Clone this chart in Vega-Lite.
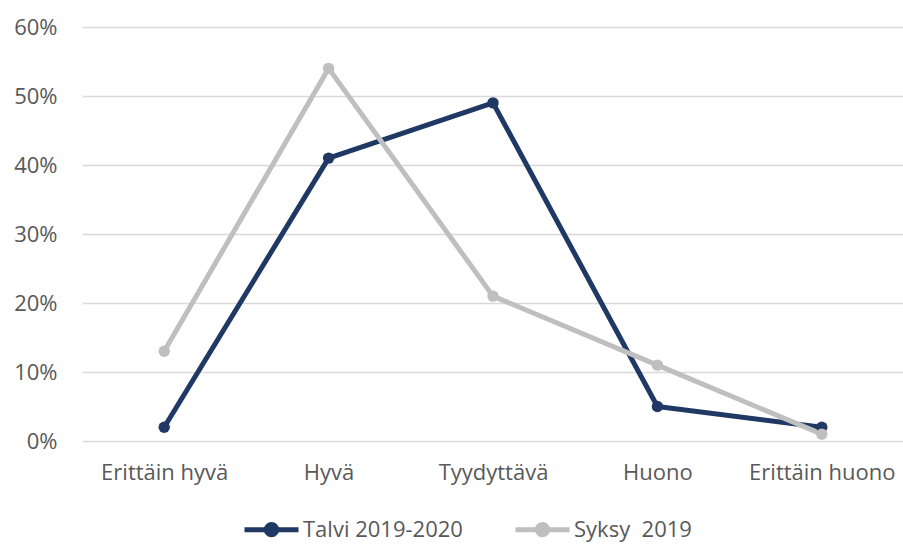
{
  "$schema": "https://vega.github.io/schema/vega-lite/v6.json",
  "autosize": "none",
  "width": 822,
  "height": 414,
  "padding": {"left": 82, "top": 27, "right": 0, "bottom": 104},
  "background": "white",
  "config": {
    "font": "Open Sans",
    "view": {"stroke": null}
  },
  "data": {
    "values": [
      {"cat": "Erittäin hyvä", "series": "Talvi 2019-2020", "value": 0.02},
      {"cat": "Hyvä", "series": "Talvi 2019-2020", "value": 0.41},
      {"cat": "Tyydyttävä", "series": "Talvi 2019-2020", "value": 0.49},
      {"cat": "Huono", "series": "Talvi 2019-2020", "value": 0.05},
      {"cat": "Erittäin huono", "series": "Talvi 2019-2020", "value": 0.02},
      {"cat": "Erittäin hyvä", "series": "Syksy\u00a0 2019", "value": 0.13},
      {"cat": "Hyvä", "series": "Syksy\u00a0 2019", "value": 0.54},
      {"cat": "Tyydyttävä", "series": "Syksy\u00a0 2019", "value": 0.21},
      {"cat": "Huono", "series": "Syksy\u00a0 2019", "value": 0.11},
      {"cat": "Erittäin huono", "series": "Syksy\u00a0 2019", "value": 0.01}
    ]
  },
  "encoding": {
    "x": {
      "field": "cat",
      "type": "nominal",
      "sort": null,
      "scale": {"type": "point", "padding": 0.5},
      "axis": {
        "title": null,
        "labelAngle": 0,
        "labelFontSize": 22,
        "labelColor": "#595959",
        "labelPadding": 21,
        "ticks": false,
        "domain": false,
        "grid": false
      }
    },
    "y": {
      "field": "value",
      "type": "quantitative",
      "scale": {"domain": [0, 0.6], "nice": false},
      "axis": {
        "title": null,
        "values": [0, 0.1, 0.2, 0.3, 0.4, 0.5, 0.6],
        "format": ".0%",
        "labelFontSize": 22,
        "labelColor": "#595959",
        "labelPadding": 25,
        "ticks": false,
        "domain": false,
        "gridColor": "#d9d9d9",
        "gridWidth": 1.3
      }
    },
    "color": {
      "field": "series",
      "type": "nominal",
      "sort": null,
      "scale": {"domain": ["Talvi 2019-2020", "Syksy\u00a0 2019"], "range": ["#203864", "#BFBFBF"]},
      "legend": {
        "title": null,
        "orient": "none",
        "legendX": 160,
        "legendY": 473,
        "direction": "horizontal",
        "labelFontSize": 22,
        "labelColor": "#595959",
        "labelOffset": 2,
        "columnPadding": 42,
        "symbolType": "M-1,0H1M-0.19,0A0.19,0.19,0,1,1,0.19,0A0.19,0.19,0,1,1,-0.19,0Z",
        "symbolSize": 2916,
        "symbolStrokeWidth": 5,
        "encode": {
          "symbols": {"update": {"fill": {"scale": "color", "field": "value"}, "stroke": {"scale": "color", "field": "value"}}}
        }
      }
    }
  },
  "layer": [
    {
      "mark": {"type": "line", "strokeWidth": 5, "strokeCap": "round", "strokeJoin": "round"}
    },
    {
      "mark": {"type": "point", "filled": true, "size": 130, "opacity": 1}
    }
  ]
}
